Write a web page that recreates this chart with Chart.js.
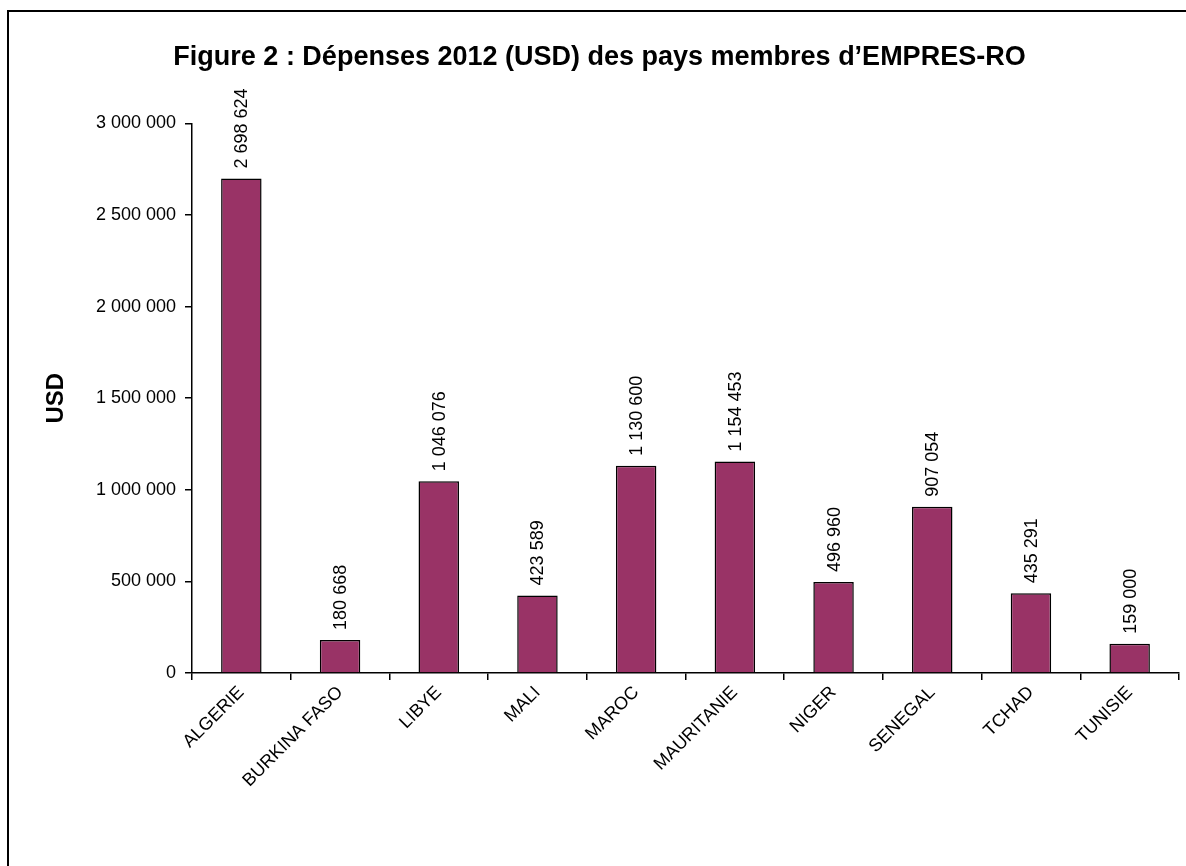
<!DOCTYPE html>
<html lang="fr">
<head>
  <meta charset="UTF-8">
  <title>Dépenses 2012 EMPRES-RO</title>
  <script src="https://cdn.jsdelivr.net/npm/chart.js"></script>
  <style>
    html, body { margin: 0; padding: 0; background: #fff; }
    #wrap { position: relative; width: 1186px; height: 866px; }
  </style>
</head>
<body>
  <div id="wrap"><canvas id="depChart"></canvas></div>

  <script>
    const pays = ['ALGERIE', 'BURKINA FASO', 'LIBYE', 'MALI', 'MAROC', 'MAURITANIE', 'NIGER', 'SENEGAL', 'TCHAD', 'TUNISIE'];
    const depenses = [2698624, 180668, 1046076, 423589, 1130600, 1154453, 496960, 907054, 435291, 159000];
    const yTicks = [0, 500000, 1000000, 1500000, 2000000, 2500000, 3000000];

    const FONT = '"Liberation Sans", Arial, sans-serif';

    // 1234567 -> "1 234 567"
    function fmt(n) {
      return String(n).replace(/\B(?=(\d{3})+(?!\d))/g, ' ');
    }

    // white page + the black frame (runs off right/bottom edge like the original)
    const framePlugin = {
      id: 'frame',
      beforeDraw(chart) {
        const ctx = chart.ctx;
        ctx.save();
        ctx.fillStyle = '#fff';
        ctx.fillRect(0, 0, chart.width, chart.height);
        ctx.strokeStyle = '#000';
        ctx.lineWidth = 2;
        ctx.strokeRect(8, 11, 2000, 2000);
        ctx.restore();
      }
    };

    // vertical value labels above each bar
    const valueLabels = {
      id: 'valueLabels',
      afterDatasetsDraw(chart) {
        const ctx = chart.ctx;
        const meta = chart.getDatasetMeta(0);
        ctx.save();
        ctx.font = '18px ' + FONT;
        ctx.fillStyle = '#000';
        ctx.textAlign = 'left';
        ctx.textBaseline = 'middle';
        meta.data.forEach((bar, i) => {
          ctx.save();
          ctx.translate(bar.x + 1, bar.y - 10);
          ctx.rotate(-Math.PI / 2);
          ctx.fillText(fmt(depenses[i]), 0, 0);
          ctx.restore();
        });
        ctx.restore();
      }
    };

    const ctx = document.getElementById('depChart').getContext('2d');
    new Chart(ctx, {
      type: 'bar',
      data: {
        labels: pays,
        datasets: [{
          data: depenses,
          backgroundColor: '#993366',
          borderColor: '#000',
          borderWidth: 1.5,
          categoryPercentage: 1,
          barPercentage: 0.41
        }]
      },
      plugins: [framePlugin, valueLabels],
      options: {
        responsive: true,
        maintainAspectRatio: false,
        animation: false,
        layout: { padding: { left: 20, right: 7, top: 0, bottom: 0 } },
        plugins: {
          legend: { display: false },
          tooltip: { enabled: false },
          title: {
            display: true,
            text: 'Figure 2 : Dépenses 2012 (USD) des pays membres d\u2019EMPRES-RO',
            color: '#000',
            font: { family: FONT, size: 27, weight: 'bold', lineHeight: 1.2 },
            padding: { top: 41, bottom: 50 }
          }
        },
        scales: {
          x: {
            grid: { drawOnChartArea: false, offset: true, color: '#000', tickLength: 7, lineWidth: 1.5 },
            border: { color: '#000', width: 1.5 },
            ticks: {
              color: '#000',
              font: { family: FONT, size: 18 },
              maxRotation: 45,
              minRotation: 45,
              autoSkip: false,
              padding: 2
            },
            afterFit(scale) { scale.height = 193; }
          },
          y: {
            min: 0,
            max: 3000000,
            afterBuildTicks(scale) { scale.ticks = yTicks.map(v => ({ value: v })); },
            grid: { drawOnChartArea: false, color: '#000', tickLength: 7, lineWidth: 1.5 },
            border: { color: '#000', width: 1.5 },
            ticks: {
              color: '#000',
              font: { family: FONT, size: 18 },
              padding: 9,
              callback: (v) => fmt(v)
            },
            title: {
              display: true,
              text: 'USD',
              color: '#000',
              font: { family: FONT, size: 24, weight: 'bold', lineHeight: 1.2 },
              padding: { top: 22, bottom: 0 }
            },
            afterFit(scale) { scale.width = 172; }
          }
        }
      }
    });
  </script>
</body>
</html>
